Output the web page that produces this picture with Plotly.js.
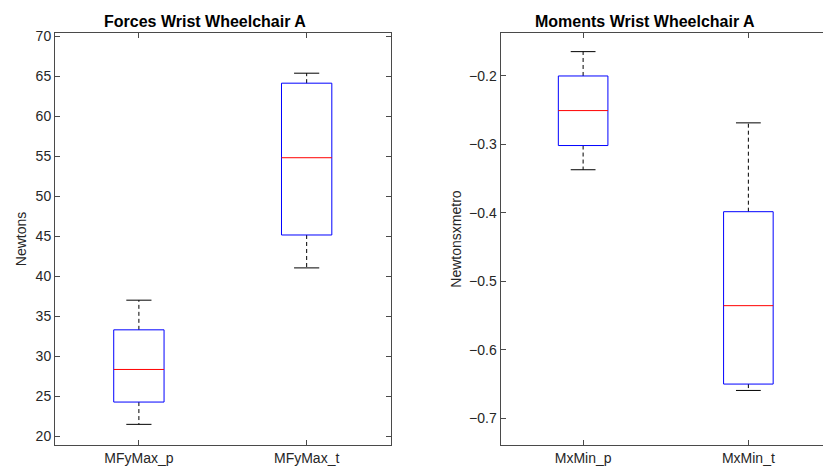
<!DOCTYPE html>
<html>
<head>
<meta charset="utf-8">
<script src="https://cdn.plot.ly/plotly-3.0.1.min.js"></script>
<style>
html, body { margin: 0; padding: 0; overflow: hidden; background: #fff; }
#chart { width: 840px; height: 469px; }
</style>
</head>
<body>
<div id="chart"></div>
<script>
// ---- Data ----
const forceCategories = ['MFyMax_p', 'MFyMax_t'];
const forceLowerWhisker = [21.46, 41.04];
const forceQ1 = [24.25, 45.16];
const forceMedian = [28.33, 54.83];
const forceQ3 = [33.29, 64.16];
const forceUpperWhisker = [37.0, 65.41];

const momentCategories = ['MxMin_p', 'MxMin_t'];
const momentLowerWhisker = [-0.3373, -0.6593];
const momentQ1 = [-0.302, -0.650];
const momentMedian = [-0.251, -0.5356];
const momentQ3 = [-0.2005, -0.3985];
const momentUpperWhisker = [-0.165, -0.2689];

const forceTitle = 'Forces Wrist Wheelchair A';
const momentTitle = 'Moments Wrist Wheelchair A';
const forceYLabel = 'Newtons';
const momentYLabel = 'Newtonsxmetro';

// ---- Styles ----
const HALF_BOX = 0.15;
const HALF_CAP = 0.075;
const FONT = 'Liberation Sans, Arial, Helvetica, sans-serif';
const AXIS_COLOR = '#4a4a4a';
const TEXT_COLOR = '#262626';

function boxTraces(lo, q1, med, q3, hi, xa, ya) {
  const bx = [], by = [], mx = [], my = [], wx = [], wy = [], cx = [], cy = [];
  for (let i = 0; i < med.length; i++) {
    const c = i + 1;
    bx.push(c - HALF_BOX, c + HALF_BOX, c + HALF_BOX, c - HALF_BOX, c - HALF_BOX, null);
    by.push(q1[i], q1[i], q3[i], q3[i], q1[i], null);
    mx.push(c - HALF_BOX, c + HALF_BOX, null);
    my.push(med[i], med[i], null);
    wx.push(c, c, null, c, c, null);
    wy.push(q3[i], hi[i], null, q1[i], lo[i], null);
    cx.push(c - HALF_CAP, c + HALF_CAP, null, c - HALF_CAP, c + HALF_CAP, null);
    cy.push(hi[i], hi[i], null, lo[i], lo[i], null);
  }
  const base = { type: 'scatter', mode: 'lines', xaxis: xa, yaxis: ya, hoverinfo: 'skip', showlegend: false };
  return [
    Object.assign({}, base, { x: wx, y: wy, line: { color: '#000', width: 1, dash: '4px,3px' } }),
    Object.assign({}, base, { x: cx, y: cy, line: { color: '#000', width: 1 } }),
    Object.assign({}, base, { x: bx, y: by, line: { color: '#0000ff', width: 1 } }),
    Object.assign({}, base, { x: mx, y: my, line: { color: '#ff0000', width: 1 } })
  ];
}

const traces = [].concat(
  boxTraces(forceLowerWhisker, forceQ1, forceMedian, forceQ3, forceUpperWhisker, 'x', 'y'),
  boxTraces(momentLowerWhisker, momentQ1, momentMedian, momentQ3, momentUpperWhisker, 'x2', 'y2')
);

function xAxis(domain, cats, anchor) {
  return {
    domain: domain, anchor: anchor, range: [0.5, 2.5],
    tickmode: 'array', tickvals: cats.map((_, i) => i + 1), ticktext: cats,
    ticks: 'inside', ticklen: 5, tickcolor: AXIS_COLOR, mirror: 'allticks',
    showline: true, linecolor: AXIS_COLOR, linewidth: 1,
    showgrid: false, zeroline: false, fixedrange: true,
    tickfont: { family: FONT, size: 14, color: TEXT_COLOR }
  };
}
function yAxis(range, dtick, anchor, title, standoff) {
  return {
    anchor: anchor, range: range, dtick: dtick, tick0: 0,
    ticks: 'inside', ticklen: 5, tickcolor: AXIS_COLOR, mirror: 'allticks',
    showline: true, linecolor: AXIS_COLOR, linewidth: 1,
    showgrid: false, zeroline: false, fixedrange: true,
    tickfont: { family: FONT, size: 14, color: TEXT_COLOR },
    title: { text: title, standoff: standoff, font: { family: FONT, size: 14, color: TEXT_COLOR } }
  };
}

const layout = {
  width: 840, height: 469,
  margin: { l: 55, r: 8.6, t: 32.5, b: 24, pad: 0 },
  paper_bgcolor: '#fff', plot_bgcolor: '#fff',
  xaxis: xAxis([0, 0.4324], forceCategories, 'y'),
  yaxis: yAxis([18.875, 70.44], 5, 'x', forceYLabel, 5),
  xaxis2: xAxis([0.5741, 1], momentCategories, 'y2'),
  yaxis2: yAxis([-0.7389, -0.1378], 0.1, 'x2', momentYLabel, 4),
  annotations: [
    { text: '<b>' + forceTitle + '</b>', xref: 'x domain', yref: 'y domain', x: 0.5, y: 1,
      xanchor: 'center', yanchor: 'bottom', xshift: -18, yshift: 1, showarrow: false,
      font: { family: FONT, size: 16, color: '#000' } },
    { text: '<b>' + momentTitle + '</b>', xref: 'x2 domain', yref: 'y2 domain', x: 0.5, y: 1,
      xanchor: 'center', yanchor: 'bottom', xshift: -21, yshift: 1, showarrow: false,
      font: { family: FONT, size: 16, color: '#000' } }
  ]
};

Plotly.newPlot('chart', traces, layout, { displayModeBar: false, staticPlot: true });
</script>
</body>
</html>
